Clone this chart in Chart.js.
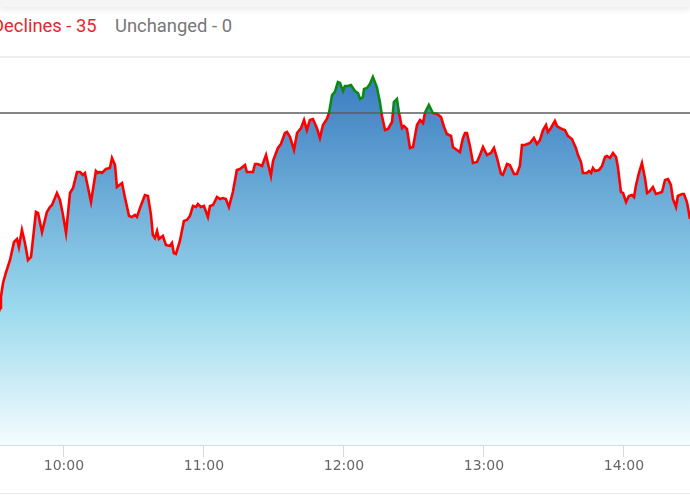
<!DOCTYPE html>
<html>
<head>
<meta charset="utf-8">
<script src="https://cdn.jsdelivr.net/npm/chart.js@4.4.0/dist/chart.umd.min.js"></script>
<style>
  html, body { margin: 0; padding: 0; width: 690px; height: 500px; overflow: hidden; background: #fff; }
  #topband { position: absolute; left: 0; top: 0; width: 690px; height: 7px; background: #f5f5f5; box-shadow: 0 2px 6px rgba(0,0,0,0.10); }
  .leg { position: absolute; top: 15px; font-family: Roboto, sans-serif; font-size: 18.4px; line-height: 21px; white-space: nowrap; }
  #sep1 { position: absolute; left: 0; top: 56px; width: 690px; height: 2px; background: #eeeeee; }
  #sep2 { position: absolute; left: 0; top: 493px; width: 690px; height: 1px; background: #e9e9e9; }
  #wrap { position: absolute; left: 0; top: 58px; width: 690px; height: 435px; }
</style>
</head>
<body>
<div id="topband"></div>
<div class="leg" style="left:-8px; color:#e8262b;">Declines - 35</div>
<div class="leg" style="left:115px; color:#777777;">Unchanged - 0</div>
<div id="sep1"></div>
<div id="wrap"><canvas id="c"></canvas></div>
<div id="sep2"></div>
<script>
// time of day in minutes since midnight
const MINUTES = [571.3,572.6,573.0,573.9,575.1,576.9,578.6,579.9,580.7,582.0,583.3,584.6,585.9,588.0,588.9,590.6,592.7,594.0,594.9,597.0,598.3,599.6,600.9,602.6,603.9,605.6,606.9,608.1,609.0,611.6,613.7,614.6,615.4,616.3,618.0,619.7,620.6,621.9,622.7,624.9,626.1,627.9,629.1,630.4,631.3,632.6,634.7,636.0,637.3,638.1,639.0,639.9,640.7,642.4,643.7,645.4,646.3,647.1,648.0,649.7,651.4,652.7,654.0,655.3,656.6,657.4,658.7,660.0,661.7,662.6,663.9,665.6,666.9,668.1,669.4,670.7,672.4,674.1,675.4,677.6,678.4,679.7,681.0,681.9,683.1,684.9,686.6,688.7,689.6,691.7,693.0,694.7,695.6,696.9,698.6,699.9,701.6,702.9,704.1,705.4,706.7,708.4,709.7,711.0,712.7,713.6,714.9,716.1,717.4,718.3,719.6,720.4,721.7,723.0,724.7,726.0,726.9,728.1,728.6,729.9,731.1,732.4,734.1,735.4,736.3,737.6,738.9,740.6,741.4,742.7,743.6,744.9,745.7,747.0,748.3,749.6,751.3,752.6,753.9,754.7,756.4,758.1,759.9,761.6,762.9,764.1,765.9,766.7,768.4,769.7,771.0,771.9,772.7,774.0,775.3,777.0,778.3,779.6,781.3,783.0,784.3,785.6,787.3,788.1,789.9,791.1,792.9,794.1,795.4,796.3,797.6,799.7,801.4,802.7,804.0,805.3,806.6,807.4,808.7,810.4,811.3,813.4,814.7,816.0,817.7,819.4,820.3,821.6,822.4,824.1,825.0,825.9,826.7,827.6,829.3,830.6,831.9,832.7,834.0,835.3,836.6,837.4,838.7,839.6,840.9,842.1,843.4,844.3,845.1,846.4,847.7,849.0,849.9,851.1,852.4,853.7,855.0,856.3,857.6,858.9,860.1,861.0,862.3,863.1,864.9,865.7,867.0,868.3,869.6];
// index level (relative units)
const LEVELS = [127,137,148,162,172,185,203,206,198,215,202,185,188,233,232,213,233,238,240,252,245,230,212,252,257,273,273,270,272,243,274,272,273,272,276,277,287,280,258,262,248,229,228,230,228,237,250,249,230,210,207,214,206,209,200,199,202,192,191,204,224,225,229,239,238,241,238,239,228,239,240,248,246,247,246,238,253,275,276,280,273,273,273,281,281,279,290,269,284,297,301,312,313,308,295,312,317,325,315,325,326,317,307,320,326,332,350,353,363,362,354,359,359,360,354,352,346,348,356,357,361,368,358,343,329,315,316,323,343,346,332,317,319,316,297,298,320,325,322,332,340,332,331,328,318,311,309,298,295,293,307,312,312,299,282,283,290,298,290,292,297,287,271,270,281,280,271,271,279,300,300,302,307,301,305,315,320,313,317,324,319,316,315,309,306,297,290,283,272,272,274,272,277,274,275,279,288,289,287,292,288,278,253,252,243,249,250,248,259,272,282,267,252,254,258,251,252,253,265,266,260,246,238,249,251,251,243,226,213];
const PREV_CLOSE = 332;
const HOUR_TICKS = [600, 660, 720, 780, 840];
const HOUR_LABELS = ['10:00', '11:00', '12:00', '13:00', '14:00'];
const X_MIN = 572.6, X_MAX = 868.3, Y_MIN = 0, Y_MAX = 387;

const points = MINUTES.map((m, i) => ({ x: m, y: LEVELS[i] }));

function lineColor(ctx) {
  const chart = ctx.chart, a = chart.chartArea;
  if (!a) return '#ff0000';
  const yb = chart.scales.y.getPixelForValue(PREV_CLOSE);
  const f = Math.min(1, Math.max(0, (yb - a.top) / (a.bottom - a.top)));
  const g = chart.ctx.createLinearGradient(0, a.top, 0, a.bottom);
  g.addColorStop(0, '#0b8a12');
  g.addColorStop(f, '#0b8a12');
  g.addColorStop(f, '#ff0000');
  g.addColorStop(1, '#ff0000');
  return g;
}
function fillColor(ctx) {
  const chart = ctx.chart, a = chart.chartArea;
  if (!a) return '#7fc8e5';
  const g = chart.ctx.createLinearGradient(0, a.top + 17, 0, a.bottom);
  g.addColorStop(0, '#3a7bc0');
  g.addColorStop(0.62, '#99d8ed');
  g.addColorStop(1, '#f4fcfe');
  return g;
}

new Chart(document.getElementById('c'), {
  type: 'line',
  data: {
    datasets: [
      {
        data: points,
        borderColor: lineColor,
        backgroundColor: fillColor,
        borderWidth: 2.6,
        fill: 'start',
        pointRadius: 0,
        tension: 0
      },
      {
        data: [{ x: X_MIN - 10, y: PREV_CLOSE }, { x: X_MAX + 10, y: PREV_CLOSE }],
        borderColor: '#5c5c5c',
        borderWidth: 1.5,
        fill: false,
        pointRadius: 0
      }
    ]
  },
  options: {
    responsive: true,
    maintainAspectRatio: false,
    animation: false,
    events: [],
    layout: { padding: 0 },
    plugins: {
      legend: { display: false },
      tooltip: { enabled: false },
      filler: { drawTime: 'beforeDatasetsDraw' }
    },
    scales: {
      x: {
        type: 'linear',
        min: X_MIN,
        max: X_MAX,
        afterBuildTicks: (s) => { s.ticks = HOUR_TICKS.map(v => ({ value: v })); },
        afterFit: (s) => { s.height = 48; },
        border: { display: true, color: '#d3daee', width: 2 },
        grid: { display: true, drawOnChartArea: false, drawTicks: true, tickLength: 12, color: '#d3daee', lineWidth: 1 },
        ticks: {
          autoSkip: false,
          maxRotation: 0,
          padding: 1,
          color: '#666666',
          font: { family: 'DejaVu Sans', size: 14 },
          callback: (v) => HOUR_LABELS[HOUR_TICKS.indexOf(v)]
        }
      },
      y: {
        display: false,
        min: Y_MIN,
        max: Y_MAX
      }
    }
  }
});
</script>
</body>
</html>
